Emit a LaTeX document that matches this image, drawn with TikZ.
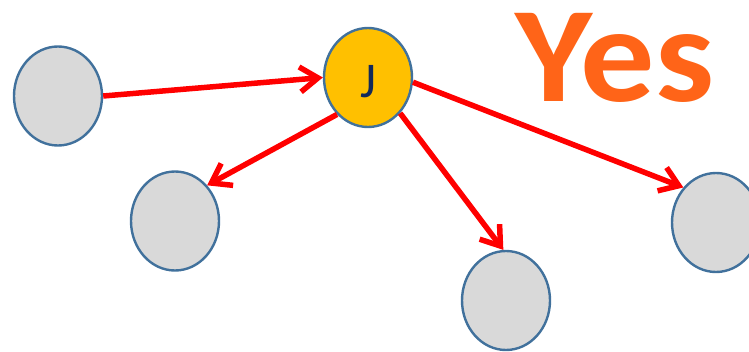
\documentclass[tikz,border=0pt]{standalone}
\usepackage{fontspec}
\setmainfont{Carlito}
\usetikzlibrary{shapes.geometric,arrows.meta}
\definecolor{nodegray}{HTML}{D9D9D9}
\definecolor{nodeblue}{HTML}{41719C}
\definecolor{jyellow}{HTML}{FFC000}
\definecolor{yesorange}{HTML}{FF6418}
\definecolor{jnavy}{HTML}{13295A}
\tikzset{
  circ/.style={ellipse, draw=nodeblue, line width=2.4pt, fill=nodegray,
    minimum width=88pt, minimum height=99pt, inner sep=0pt},
  jcirc/.style={circ, fill=jyellow},
  redarrow/.style={draw=red, line width=5.5pt,
    -{Straight Barb[length=18pt,width=25pt]}}
}
\begin{document}
\begin{tikzpicture}[x=1pt,y=-1pt]
\useasboundingbox (0,0) rectangle (749,351);
\clip (0,0) rectangle (749,351);
\node[circ] (A) at (58,96) {};
\node[jcirc, text=jnavy, text height=41pt, font=\fontsize{50}{50}\selectfont] (J) at (368,77.5) {J};
\node[circ] (B) at (175,221) {};
\node[circ] (C) at (506,300.5) {};
\node[circ] (D) at (716,222.5) {};
\node[anchor=base west, inner sep=0pt, xscale=1.09, text=yesorange, font=\fontsize{136}{136}\selectfont\bfseries] (yes) at (515,101) {Yes};
\draw[redarrow] (A.east) -- (J.west);
\draw[redarrow] (J.230) -- (B.48);
\draw[redarrow] (J.312) -- (C.93);
\draw[redarrow] (J.354) -- (D.133);
\end{tikzpicture}
\end{document}
